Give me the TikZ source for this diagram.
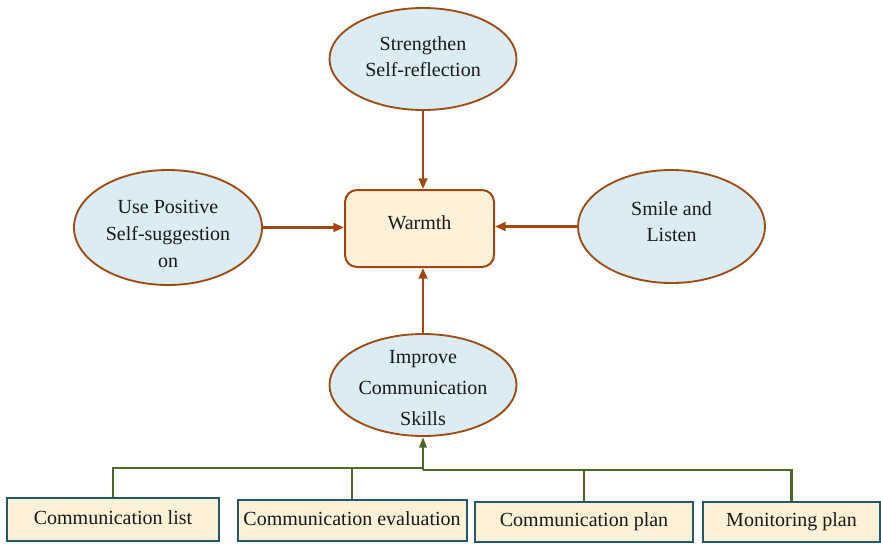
\documentclass[tikz,border=0pt]{standalone}
\usepackage{fontspec}
\setmainfont{Liberation Serif}
\usetikzlibrary{shapes.geometric,arrows.meta}

\definecolor{ellfill}{RGB}{219,237,243}
\definecolor{elldraw}{RGB}{156,76,20}
\definecolor{arrowbrown}{RGB}{160,72,16}
\definecolor{corefill}{RGB}{253,242,217}
\definecolor{leaffill}{RGB}{252,240,214}
\definecolor{leafdraw}{RGB}{34,88,104}
\definecolor{olive}{RGB}{80,100,40}

\tikzset{
  txt/.style={font=\fontsize{15pt}{19.5pt}\selectfont, text=black!90},
  goal/.style={ellipse, draw=elldraw, line width=1.4pt, fill=ellfill,
    inner sep=0pt, minimum width=140.25pt, minimum height=76.5pt},
  goaltext/.style={txt, align=center, inner sep=0pt},
  core/.style={rectangle, rounded corners=9pt, txt, draw=arrowbrown,
    line width=1.5pt, fill=corefill, minimum width=111.75pt,
    minimum height=57.75pt, text height=0.7em, text depth=0.62em},
  leaf/.style={rectangle, txt, draw=leafdraw, line width=1.5pt,
    fill=leaffill, inner sep=0pt, text height=0.8em, text depth=0.07em},
  feed/.style={draw=arrowbrown, line width=1.9pt,
    -{Triangle[length=8pt,width=6.5pt]}},
  branch/.style={draw=olive, line width=1.5pt},
  trunk/.style={draw=olive, line width=1.8pt,
    -{Triangle[length=8pt,width=5.5pt]}}
}

\begin{document}
\begin{tikzpicture}[x=0.75pt,y=-0.75pt]
  \useasboundingbox (0,0) rectangle (881,543);

  % central quality
  \node[core] (warmth) at (419.5,228.5) {Warmth};

  % four ways that lead to it
  \node[goal] (reflect) at (423,59) {};
  \node[goaltext] (reflect-text) at (423,57) {Strengthen\\Self-reflection};

  \node[goal, minimum width=141pt, minimum height=86.25pt] (suggest) at (168,227.5) {};
  \node[goaltext, font=\fontsize{15pt}{20pt}\selectfont] (suggest-text) at (168,234)
    {Use Positive\\Self-suggestion\\on};

  \node[goal, minimum height=84.75pt] (smile) at (671.5,226.5) {};
  \node[goaltext] (smile-text) at (671.5,221.5) {Smile and\\Listen};

  \node[goal] (skills) at (423,385) {};
  \node[goaltext, font=\fontsize{15pt}{23.25pt}\selectfont] (skills-text) at (423,388)
    {Improve\\Communication\\Skills};

  \draw[feed] (reflect.south) -- (reflect.south |- warmth.north);
  \draw[feed] (suggest.east) -- (suggest.east -| warmth.west);
  \draw[feed] (smile.west) -- (smile.west -| warmth.east);
  \draw[feed] (skills.north) -- (skills.north |- warmth.south);

  % supporting tools
  \node[leaf, minimum width=159pt, minimum height=32.25pt] (list) at (113,519.5)
    {Communication list};
  \node[leaf, minimum width=171.75pt, minimum height=30.75pt] (eval) at (352,520.5)
    {Communication evaluation};
  \node[leaf, minimum width=163.5pt, minimum height=30pt] (plan) at (584,522)
    {Communication plan};
  \node[leaf, minimum width=132.75pt, minimum height=30pt] (monitor) at (791.5,522)
    {Monitoring plan};

  \coordinate (hub) at (423,470);
  \coordinate (hubleft) at (423,468);

  \draw[branch] (list.north) |- (hubleft);
  \draw[branch] (eval.north) -- (eval.north |- hubleft);
  \draw[branch, line width=1.7pt] (monitor.north) |- (hub);
  \draw[branch] (plan.north) -- (plan.north |- hub);
  \draw[trunk] (hub) -- (skills.south);
\end{tikzpicture}
\end{document}
